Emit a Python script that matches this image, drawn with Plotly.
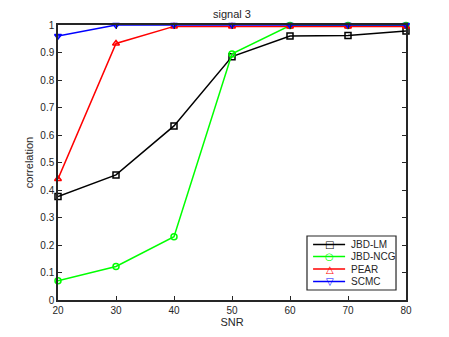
import plotly.graph_objects as go

snr = [20, 30, 40, 50, 60, 70, 80]
jbd_lm = [0.376, 0.455, 0.633, 0.885, 0.960, 0.962, 0.978]
jbd_ncg = [0.070, 0.122, 0.230, 0.895, 0.998, 0.998, 0.998]
pear = [0.440, 0.933, 0.995, 0.995, 0.995, 0.995, 0.995]
scmc = [0.960, 1.000, 1.000, 1.000, 1.000, 1.000, 1.000]

series = [
    ('JBD-LM', jbd_lm, 'black', 'square-open', '□'),
    ('JBD-NCG', jbd_ncg, '#00ff00', 'circle-open', '○'),
    ('PEAR', pear, 'red', 'triangle-up-open', '△'),
    ('SCMC', scmc, 'blue', 'triangle-down-open', '▽'),
]

fig = go.Figure()
for name, vals, col, sym, glyph in series:
    fig.add_trace(go.Scatter(x=snr, y=vals, name=name, mode='lines+markers',
                             cliponaxis=False, showlegend=False,
                             line=dict(color=col, width=1.5),
                             marker=dict(symbol=sym, size=6, color=col,
                                         line=dict(color=col, width=1.5))))

# compact MATLAB-style legend box (plotly's own legend rows are too tall)
box_x0, box_x1, box_y0, box_y1 = 0.7155, 0.9713, 0.0364, 0.2327
fig.add_shape(type='rect', xref='paper', yref='paper', x0=box_x0, x1=box_x1, y0=box_y0, y1=box_y1,
              line=dict(color='#262626', width=1.2), fillcolor='white', layer='above')
row_y = [0.2022, 0.1585, 0.1127, 0.0676]
for (name, vals, col, sym, glyph), ry in zip(series, row_y):
    fig.add_shape(type='line', xref='paper', yref='paper', x0=0.733, x1=0.825, y0=ry, y1=ry,
                  line=dict(color=col, width=1.5), layer='above')
    fig.add_annotation(xref='paper', yref='paper', x=0.7816, y=ry, text=glyph, showarrow=False,
                       font=dict(family='DejaVu Sans', size=10, color=col),
                       xanchor='center', yanchor='middle')
    fig.add_annotation(xref='paper', yref='paper', x=0.836, y=ry, text=name, showarrow=False,
                       font=dict(size=10, color='#262626'), xanchor='left', yanchor='middle')

axis = dict(showgrid=False, zeroline=False, showline=True, linecolor='#262626', linewidth=1.5,
            mirror='ticks', ticks='inside', ticklen=4, tickcolor='#262626',
            tickfont=dict(size=10, color='#262626'))

# page body has an 8px margin, so margins are shifted to land the axes where the reference has them
fig.update_layout(
    width=449, height=337,
    margin=dict(l=50, r=51, t=17, b=45),
    paper_bgcolor='white', plot_bgcolor='white',
    font=dict(family='Liberation Sans, Arial, sans-serif', color='#262626'),
    title=dict(text='signal 3', x=0.5, xanchor='center', xref='paper',
               y=0.982, yanchor='middle',
               font=dict(size=11, color='#262626')),
    xaxis=dict(axis, range=[20, 80], dtick=10,
               title=dict(text='SNR', font=dict(size=11), standoff=2)),
    yaxis=dict(axis, range=[0, 1], dtick=0.1, tickformat='.1~f',
               title=dict(text='correlation', font=dict(size=11), standoff=4)),
)

fig.write_html("out.html")
